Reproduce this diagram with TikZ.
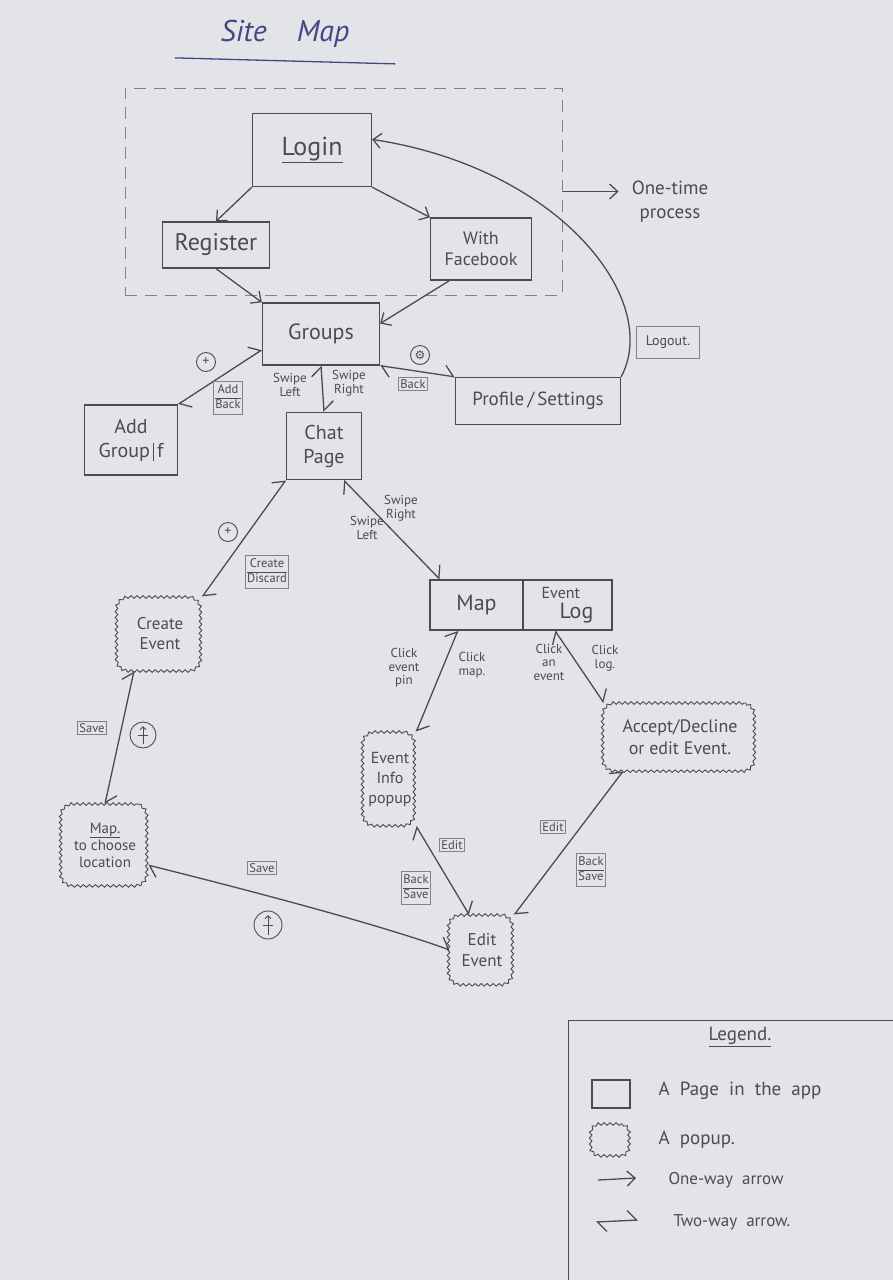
\documentclass[tikz,border=0pt]{standalone}
\usepackage{fontspec}
\setmainfont{PT Sans}
\newfontfamily\symfont{DejaVu Sans}
\usetikzlibrary{arrows.meta,decorations.pathmorphing,calc}
\definecolor{paper}{RGB}{227,228,231}
\definecolor{pencil}{RGB}{75,75,82}
\definecolor{ink}{RGB}{70,70,135}
\definecolor{faint}{RGB}{130,130,136}
\newcommand\fsz[2]{\fontsize{#1}{#2}\selectfont}
\begin{document}
\begin{tikzpicture}[x=1pt,y=-1pt,
  page/.style={draw=pencil, line width=1.3pt, text=pencil, align=center, inner sep=2pt},
  popup/.style={draw=none, text=pencil, align=center, inner sep=2pt, rounded corners=12pt,
    postaction={draw=pencil, line width=0.9pt, sharp corners, decorate, decoration={snake, segment length=6pt, amplitude=1.3pt}}},
  lbl/.style={text=pencil, align=center, font=\fsz{13}{13.5}, inner sep=1pt},
  tag/.style={draw=faint, line width=0.8pt, text=pencil, font=\fsz{12.5}{14}, inner sep=2pt},
  circ/.style={circle, draw=pencil, line width=0.9pt, inner sep=1pt, minimum size=19pt, text=pencil},
  oneway/.style={draw=pencil, line width=1.3pt, -{Straight Barb[length=8pt,width=15pt]}},
  twoway/.style={draw=pencil, line width=1.3pt,
    {Straight Barb[harpoon,length=9pt,width=20pt]}-{Straight Barb[harpoon,length=9pt,width=20pt]}}
]
\fill[paper] (0,0) rectangle (893,1280);
\useasboundingbox (0,0) rectangle (893,1280);

% title
\node[font=\fsz{30}{32}\itshape, text=ink, minimum width=220, inner sep=2pt] (title) at (285,34) {Site\quad Map};
\draw[ink, line width=1.3pt] ([yshift=-8pt]title.south west) -- ([yshift=-14pt]title.south east);

% one-time region
\node[draw=faint, dash pattern=on 12pt off 8pt, line width=1pt, minimum width=437, minimum height=207] (onetime) at (343.5,191.5) {};
\node[lbl, font=\fsz{19}{24}] (otnote) at (670,202) {One-time\\process};
\draw[oneway, shorten >=12pt] (onetime.east) -- (otnote.west |- onetime.east);

% pages
\node[page, minimum width=119, minimum height=73, font=\fsz{26}{28}] (login) at (312,150) {\underline{Login}};
\node[page, minimum width=107, minimum height=46, font=\fsz{24}{26}] (register) at (216,245) {Register};
\node[page, minimum width=101, minimum height=62, font=\fsz{18}{21}] (facebook) at (481,249) {With\\Facebook};
\node[page, minimum width=117, minimum height=62, font=\fsz{22}{24}] (groups) at (321,334) {Groups};
\node[page, minimum width=93, minimum height=70, font=\fsz{20}{24}] (addgroup) at (131,440) {Add\\Group\,\vrule\,f};
\node[page, minimum width=75, minimum height=67, font=\fsz{20}{24}] (chat) at (324,446) {Chat\\Page};
\node[page, minimum width=165, minimum height=47, font=\fsz{19}{21}] (profile) at (538,401) {Profile\,/\,Settings};
\node[page, minimum width=93, minimum height=50, font=\fsz{22}{24}] (map) at (476.5,605) {Map};
\node[page, minimum width=89, minimum height=50, font=\fsz{16}{20}, align=left] (eventlog) at (567.5,605) {Event\\\hspace*{18pt}{\fsz{22}{22}Log}};

% popups
\node[popup, minimum width=84, minimum height=74, font=\fsz{17}{20}] (create) at (160,634) {Create\\Event};
\node[popup, minimum width=86, minimum height=82, font=\fsz{15}{17}] (choose) at (105,845) {\underline{Map.}\\to choose\\location};
\node[popup, minimum width=52, minimum height=94, font=\fsz{16}{20}] (info) at (390,779) {Event\\Info\\popup};
\node[popup, minimum width=152, minimum height=68, font=\fsz{18}{22}] (accept) at (680,737) {Accept/Decline\\or edit Event.};
\node[popup, minimum width=64, minimum height=70, font=\fsz{17}{21}] (edit) at (482,950) {Edit\\Event};

% connectors
\draw[oneway] (login.south west) -- (register.north);
\draw[oneway] (login.south east) -- (facebook.north west);
\draw[oneway] (register.south) -- (groups.north west);
\draw[oneway] (facebook.225) -- (groups.10);
\draw[twoway] (groups.195) -- (addgroup.north east);
\draw[twoway] (groups.south) -- (chat.north);
\draw[twoway] (groups.south east) -- (profile.north west);
\draw[oneway] (profile.north east) .. controls (662,300) and (560,168) .. (login.10);
\draw[twoway] (chat.south west) -- (create.north east);
\draw[twoway] (chat.300) -- (map.145);
\draw[twoway] (map.234) -- (info.north east);
\draw[twoway] (eventlog.244) -- (accept.north west);
\draw[twoway] (create.235) -- (choose.north);
\draw[twoway] (choose.-25) .. controls (260,893) and (380,925) .. (edit.west);
\draw[twoway] (info.south east) -- (edit.110);
\draw[twoway] (accept.211) -- (edit.north east);

% connector labels
\node[circ, font=\fsz{14}{14}] (plus1) at (206,362) {+};
\node[tag] (addback) at (228,398) {\begin{tabular}{@{}c@{}}Add\\\hline Back\end{tabular}};
\node[lbl] (swl) at (290,385) {Swipe\\Left};
\node[lbl] (swr) at (349,383) {Swipe\\Right};
\node[circ, font=\symfont\fsz{12}{12}] (gear) at (420,355) {⚙};
\node[tag] (back1) at (413,384) {Back};
\node[tag, font=\fsz{14}{15}, minimum width=63, minimum height=32] (logout) at (668,342) {Logout.};
\node[circ, font=\fsz{14}{14}] (plus2) at (228,532) {+};
\node[tag] (crdis) at (267,572) {\begin{tabular}{@{}c@{}}Create\\\hline Discard\end{tabular}};
\node[lbl] (swr2) at (401,508) {Swipe\\Right};
\node[lbl] (swl2) at (367,528) {Swipe\\Left};
\node[lbl] (cep) at (404,668) {Click\\event\\pin};
\node[lbl] (cmap) at (472,665) {Click\\map.};
\node[lbl] (cae) at (549,662) {Click\\an\\event};
\node[lbl] (clog) at (605,658) {Click\\log.};
\node[tag] (save1) at (92,728) {Save};
\node[circ, minimum size=26] (up1) at (143,735) {};
\draw[pencil, line width=0.9pt, -{Straight Barb[length=3pt,width=6pt]}] ([yshift=-9pt]up1.center) -- ([yshift=9pt]up1.center);
\draw[pencil, line width=0.9pt] ([xshift=-5pt]up1.center) -- ([xshift=5pt]up1.center);
\node[tag] (save2) at (262,868) {Save};
\node[circ, minimum size=28] (up2) at (268,925) {};
\draw[pencil, line width=0.9pt, -{Straight Barb[length=3pt,width=6pt]}] ([yshift=-10pt]up2.center) -- ([yshift=10pt]up2.center);
\draw[pencil, line width=0.9pt] ([xshift=-5pt]up2.center) -- ([xshift=5pt]up2.center);
\node[tag] (edit1) at (452,845) {Edit};
\node[tag] (bs1) at (416,888) {\begin{tabular}{@{}c@{}}Back\\\hline Save\end{tabular}};
\node[tag] (edit2) at (553,827) {Edit};
\node[tag] (bs2) at (591,870) {\begin{tabular}{@{}c@{}}Back\\\hline Save\end{tabular}};

% legend
\node[draw=pencil, line width=1.1pt, minimum width=340, minimum height=280, anchor=north west] (legend) at (568,1020) {};
\node[text=pencil, font=\fsz{19}{21}] (legtitle) at (740,1037) {\underline{Legend.}};
\node[page, minimum width=38, minimum height=28] (lgpage) at (611,1094) {};
\node[text=pencil, font=\fsz{19}{21}, anchor=west] (lgpagetxt) at (655,1091) {A\ \ Page\ \ in\ \ the\ \ app};
\node[popup, minimum width=38, minimum height=32, rounded corners=9pt] (lgpop) at (611,1140) {};
\node[text=pencil, font=\fsz{19}{21}, anchor=west] (lgpoptxt) at (655,1140) {A\ \ popup.};
\coordinate (la1) at (598,1180);
\coordinate (la2) at (636,1178);
\draw[oneway] (la1) -- (la2);
\node[text=pencil, font=\fsz{17}{19}, anchor=west] (lgone) at (665,1180) {One-way\ \ arrow};
\coordinate (lb1) at (596,1222);
\coordinate (lb2) at (638,1220);
\draw[twoway] (lb1) -- (lb2);
\node[text=pencil, font=\fsz{17}{19}, anchor=west] (lgtwo) at (670,1222) {Two-way\ \ arrow.};
\end{tikzpicture}
\end{document}
